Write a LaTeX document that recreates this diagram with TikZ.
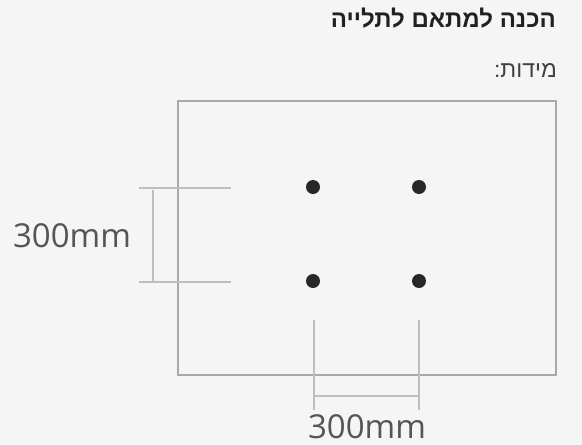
\documentclass[tikz,border=0pt]{standalone}
\usepackage{fontspec}
\setmainfont{Open Sans}
\newfontfamily\hebfont[Script=Hebrew]{Liberation Sans}
\TeXXeTstate=1
\definecolor{bgcol}{RGB}{245,245,245}
\definecolor{framecol}{RGB}{168,168,168}
\definecolor{dimcol}{RGB}{190,190,190}
\definecolor{dimtext}{RGB}{85,85,85}
\definecolor{dotcol}{RGB}{40,40,40}
\tikzset{
  hole/.style={circle,fill=dotcol,inner sep=0pt,minimum size=14pt},
  dimline/.style={draw=dimcol,line width=1.6pt},
  dimlabel/.style={text=dimtext,font=\fontsize{33}{36}\selectfont,inner sep=0pt}
}
\begin{document}
\begin{tikzpicture}[x=1pt,y=-1pt]
  \fill[bgcol] (0,0) rectangle (582,445);
  \useasboundingbox (0,0) rectangle (582,445);

  % headings
  \node[anchor=east,inner sep=0pt,text=black!87,font=\hebfont\bfseries\fontsize{24}{28}\selectfont] (title) at (556,18) {\beginR הכנה למתאם לתלייה\endR};
  \node[anchor=east,inner sep=0pt,text=black!75,font=\hebfont\fontsize{23}{27}\selectfont] (sizes) at (557,70) {\beginR מידות:\endR};

  % wall plate
  \draw[draw=framecol,line width=1.6pt] (178,101) rectangle (556,375);

  % mounting holes
  \node[hole] (d11) at (313,187) {};
  \node[hole] (d12) at (419,187) {};
  \node[hole] (d21) at (313,281) {};
  \node[hole] (d22) at (419,281) {};

  % vertical spacing
  \coordinate (lt1) at (139,188);
  \coordinate (lt2) at (231,188);
  \coordinate (lb1) at (139,282);
  \coordinate (lb2) at (231,282);
  \coordinate (va) at (153,190);
  \coordinate (vb) at (153,281);
  \draw[dimline] (lt1) -- (lt2);
  \draw[dimline] (lb1) -- (lb2);
  \draw[dimline] (va) -- (vb);
  \node[dimlabel] (vlabel) at (72,236) {300mm};

  % horizontal spacing
  \coordinate (bl1) at (314,320);
  \coordinate (bl2) at (314,410);
  \coordinate (br1) at (419,320);
  \coordinate (br2) at (419,410);
  \coordinate (ha) at (315,396);
  \coordinate (hb) at (419,396);
  \draw[dimline] (bl1) -- (bl2);
  \draw[dimline] (br1) -- (br2);
  \draw[dimline] (ha) -- (hb);
  \node[dimlabel,anchor=base] (hlabel) at (367,438) {300mm};
\end{tikzpicture}
\end{document}
